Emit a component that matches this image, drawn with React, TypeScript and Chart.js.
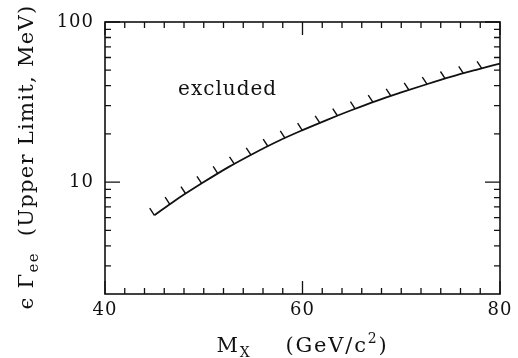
import React, { useEffect, useRef } from "react";
import { Chart, registerables } from "chart.js";

Chart.register(...registerables);

// ---- data ----
const massX = [45, 47, 50, 52.5, 55, 57.5, 60, 62.5, 65, 67.5, 70, 72.5, 75, 77.5, 80];
const gammaUpper = [6.2, 7.6, 10.0, 12.4, 15.05, 18.0, 21.1, 24.5, 28.2, 32.2, 36.3, 40.7, 45.4, 50.1, 55.0];

const xMajorTicks = [40, 60, 80];
const xMinorTicks = [42, 44, 46, 48, 50, 52, 54, 56, 58, 62, 64, 66, 68, 70, 72, 74, 76, 78];
const yMajorTicks = [10, 100];
const yMinorTicks = [3, 4, 5, 6, 7, 8, 9, 20, 30, 40, 50, 60, 70, 80, 90];

const excludedLabel = { text: "excluded", x: 47.4, y: 35 };

const FONT = '"DejaVu Serif", serif';
const INK = "#111";

function drawPieces(ctx: CanvasRenderingContext2D, pieces: { t: string; size: number; dy: number }[], spacing: number) {
  let total = 0;
  for (const p of pieces) {
    ctx.font = `${p.size}px ${FONT}`;
    (ctx as any).letterSpacing = `${spacing}px`;
    total += ctx.measureText(p.t).width;
  }
  let x = -total / 2;
  for (const p of pieces) {
    ctx.font = `${p.size}px ${FONT}`;
    (ctx as any).letterSpacing = `${spacing}px`;
    ctx.fillText(p.t, x, p.dy);
    x += ctx.measureText(p.t).width;
  }
}

const framePlugin = {
  id: "framePlugin",
  beforeDraw(chart: any) {
    chart.ctx.letterSpacing = "1px";
  },
  afterDraw(chart: any) {
    const ctx: CanvasRenderingContext2D = chart.ctx;
    const { left, right, top, bottom } = chart.chartArea;
    const xs = chart.scales.x;
    const ys = chart.scales.y;
    ctx.save();
    ctx.strokeStyle = INK;
    ctx.lineWidth = 1.6;
    ctx.strokeRect(left, top, right - left, bottom - top);

    ctx.lineWidth = 1.3;
    ctx.beginPath();
    const xt = (v: number, len: number) => {
      const px = xs.getPixelForValue(v);
      ctx.moveTo(px, bottom);
      ctx.lineTo(px, bottom - len);
      ctx.moveTo(px, top);
      ctx.lineTo(px, top + len);
    };
    const yt = (v: number, len: number) => {
      const py = ys.getPixelForValue(v);
      ctx.moveTo(left, py);
      ctx.lineTo(left + len, py);
      ctx.moveTo(right, py);
      ctx.lineTo(right - len, py);
    };
    xMinorTicks.forEach((v) => xt(v, 6));
    xMajorTicks.forEach((v) => xt(v, 13));
    yMinorTicks.forEach((v) => yt(v, 6));
    yMajorTicks.forEach((v) => yt(v, 15));
    ctx.stroke();

    // hatches along the limit curve, on the excluded side
    const meta = chart.getDatasetMeta(0);
    const pts = meta.data.map((p: any) => ({ x: p.x, y: p.y }));
    const spacing = 19;
    const hx = -0.55, hy = -0.835, hl = 8.5;
    ctx.lineWidth = 1.4;
    ctx.beginPath();
    let carry = 0;
    for (let i = 0; i < pts.length - 1; i++) {
      const a = pts[i], b = pts[i + 1];
      const dx = b.x - a.x, dy = b.y - a.y;
      const seg = Math.hypot(dx, dy);
      let s = carry;
      while (s <= seg) {
        const px = a.x + (dx * s) / seg;
        const py = a.y + (dy * s) / seg;
        ctx.moveTo(px, py);
        ctx.lineTo(px + hx * hl, py + hy * hl);
        s += spacing;
      }
      carry = s - seg;
    }
    ctx.stroke();

    ctx.fillStyle = INK;
    // "excluded" label
    ctx.font = `20px ${FONT}`;
    (ctx as any).letterSpacing = "1px";
    ctx.textBaseline = "alphabetic";
    ctx.textAlign = "left";
    ctx.fillText(excludedLabel.text, xs.getPixelForValue(excludedLabel.x), ys.getPixelForValue(excludedLabel.y));

    // x title
    ctx.save();
    ctx.translate((left + right) / 2, 352);
    drawPieces(ctx, [
      { t: "M", size: 21, dy: 0 },
      { t: "X", size: 14, dy: 5 },
      { t: "    (GeV/c", size: 21, dy: 0 },
      { t: "2", size: 14, dy: -9 },
      { t: ")", size: 21, dy: 0 },
    ], 1.8);
    ctx.restore();

    // y title
    ctx.save();
    ctx.translate(33, 157);
    ctx.rotate(-Math.PI / 2);
    drawPieces(ctx, [
      { t: "\u03F5 \u0393", size: 21, dy: 0 },
      { t: "ee", size: 15, dy: 5 },
      { t: "  (Upper Limit, MeV)", size: 21, dy: 0 },
    ], 1.3);
    ctx.restore();

    ctx.restore();
  },
};

export default function App() {
  const ref = useRef<HTMLCanvasElement | null>(null);
  useEffect(() => {
    document.body.style.margin = "0";
    const canvas = ref.current;
    if (!canvas) return;
    const chart = new Chart(canvas, {
      type: "line",
      data: {
        datasets: [
          {
            data: massX.map((x, i) => ({ x, y: gammaUpper[i] })),
            borderColor: INK,
            borderWidth: 1.8,
            pointRadius: 0,
            cubicInterpolationMode: "monotone",
            fill: false,
          },
        ],
      },
      options: {
        responsive: false,
        animation: false,
        layout: { padding: { top: 22, right: 18, left: 0, bottom: 0 } },
        plugins: { legend: { display: false }, tooltip: { enabled: false } },
        scales: {
          x: {
            type: "linear",
            min: 40,
            max: 80,
            afterBuildTicks: (s: any) => {
              s.ticks = xMajorTicks.map((v) => ({ value: v }));
            },
            afterFit: (s: any) => {
              s.height = 64;
            },
            grid: { display: false, drawTicks: false },
            border: { display: false },
            ticks: {
              color: INK,
              padding: 6,
              maxRotation: 0,
              autoSkip: false,
              font: { family: FONT, size: 18 },
              callback: (v: any) => String(v),
            },
          },
          y: {
            type: "logarithmic",
            min: 2,
            max: 100,
            afterBuildTicks: (s: any) => {
              s.ticks = yMajorTicks.map((v) => ({ value: v }));
            },
            afterFit: (s: any) => {
              s.width = 105;
            },
            grid: { display: false, drawTicks: false },
            border: { display: false },
            ticks: {
              color: INK,
              padding: 11,
              autoSkip: false,
              font: { family: FONT, size: 18 },
              callback: (v: any) => String(v),
            },
          },
        },
      },
      plugins: [framePlugin],
    } as any);
    return () => chart.destroy();
  }, []);
  return (
    <div style={{ position: "fixed", left: 0, top: 0, width: 518, height: 358, background: "#fff" }}>
      <canvas ref={ref} width={518} height={358} />
    </div>
  );
}
